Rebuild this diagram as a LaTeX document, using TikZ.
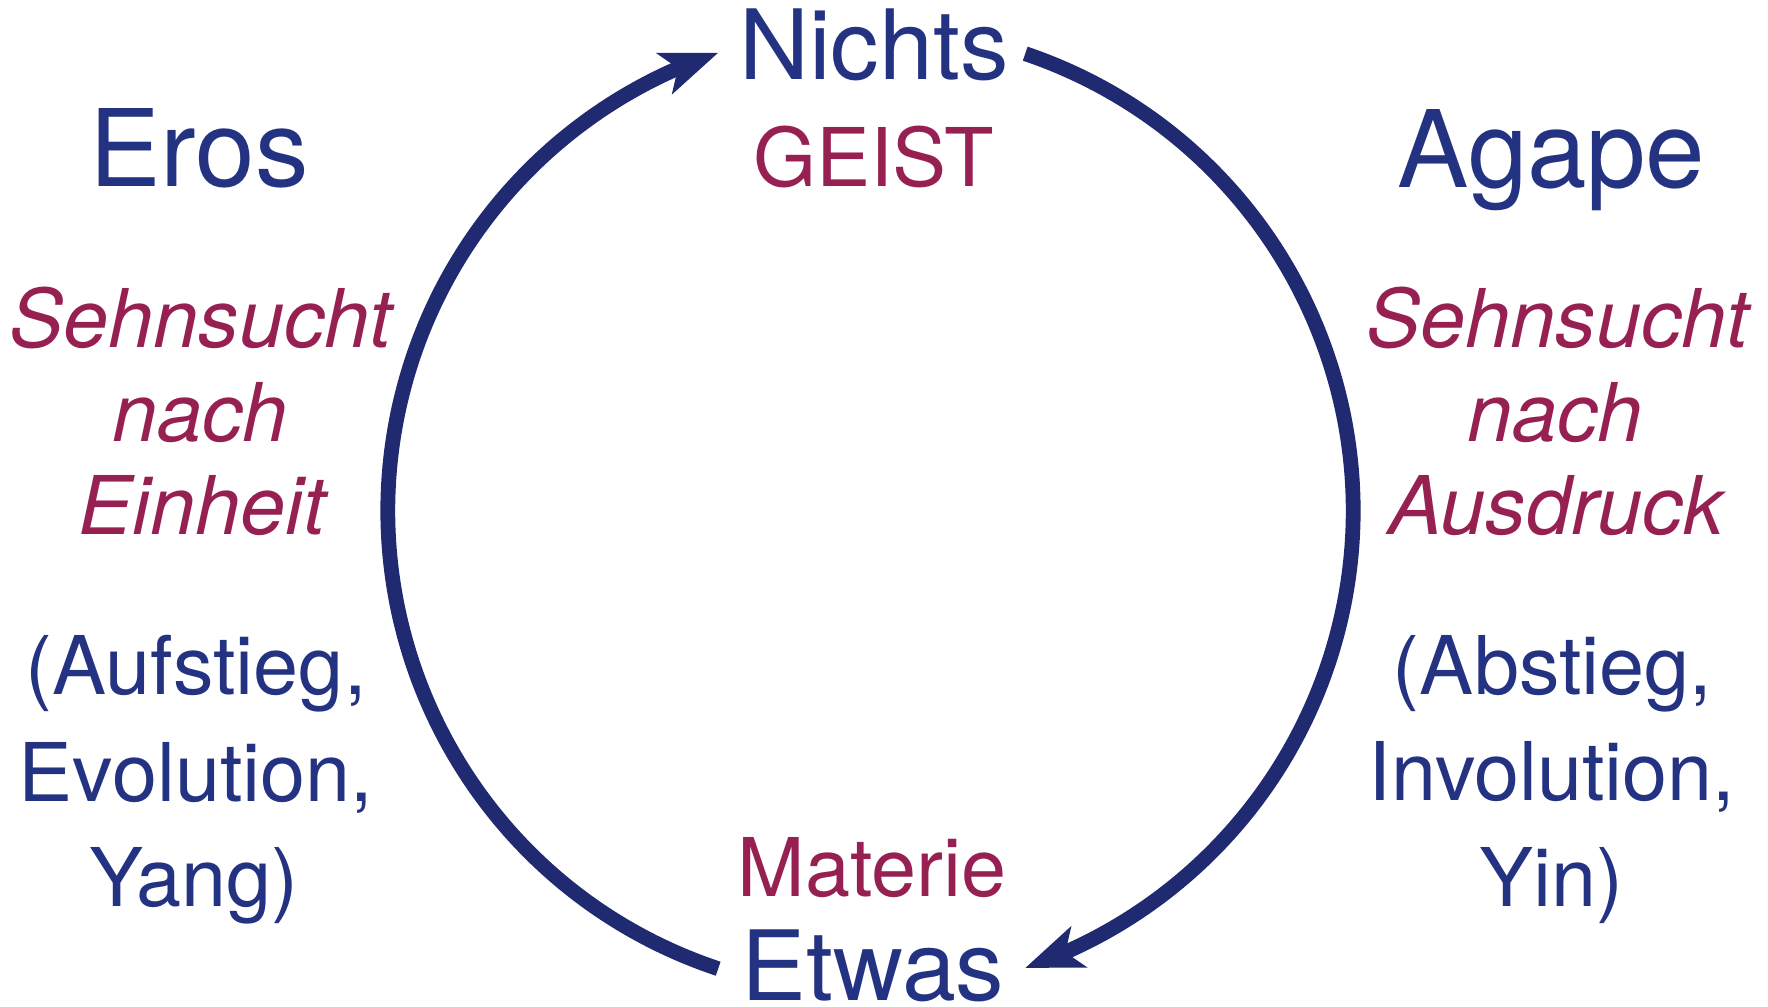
\documentclass[tikz,border=0pt]{standalone}
\usepackage{fontspec}
\setmainfont{TeX Gyre Heros}
\usetikzlibrary{arrows.meta,bending,calc}
\definecolor{txtblue}{RGB}{36,50,130}
\definecolor{arcblue}{RGB}{32,42,112}
\definecolor{crimson}{RGB}{150,32,82}
\tikzset{
  lbl/.style={inner sep=0pt, anchor=base},
  big/.style={lbl, text=txtblue, font=\fontsize{53.5}{60}\selectfont},
  pole/.style={lbl, text=txtblue, font=\fontsize{48.5}{56}\selectfont},
  sub/.style={lbl, text=crimson, font=\fontsize{40.5}{46}\selectfont},
  longing/.style={lbl, text=crimson, font=\fontsize{40.5}{46}\itshape},
  aspect/.style={lbl, text=txtblue, font=\fontsize{40.5}{46}\selectfont},
  cyclearc/.style={draw=arcblue, line width=7.4pt,
    -{Stealth[length=28.5pt, width=21.5pt, inset=7pt, fill=arcblue]}},
}
\begin{document}
\begin{tikzpicture}[x=0.5pt, y=0.5pt]
\useasboundingbox (0,0) rectangle (1768,1007);
% top and bottom
\node[pole] (nichts) at (874,927) {Nichts};
\node[sub] (geist) at (873.5,820) {GEIST};
\node[sub] (materie) at (872,110) {Materie};
\node[pole] (etwas) at (873,6.5) {Etwas};
% left column
\node[big] (eros) at (199,820) {Eros};
\node[longing] (le1) at (201,659) {Sehnsucht};
\node[longing] (le2) at (200,565) {nach};
\node[longing] (le3) at (202,472) {Einheit};
\node[aspect] (la1) at (196,312) {(Aufstieg,};
\node[aspect] (la2) at (196,205.3) {Evolution,};
\node[aspect] (la3) at (194,100.3) {Yang)};
% right column
\node[big] (agape) at (1551.5,819.3) {Agape};
\node[longing] (re1) at (1558,659) {Sehnsucht};
\node[longing] (re2) at (1555,565) {nach};
\node[longing] (re3) at (1556,472) {Ausdruck};
\node[aspect] (ra1) at (1552.5,312) {(Abstieg,};
\node[aspect] (ra2) at (1552,206.3) {Involution,};
\node[aspect] (ra3) at (1551,100.3) {Yin)};
% circle of arrows
\coordinate (O) at (870.5,496.2);
\coordinate (rstart) at ($(O)+(71.3:482.6)$);
\coordinate (lstart) at ($(O)+(251.6:482.6)$);
\draw[cyclearc] (rstart) arc[start angle=71.3, end angle=-71.3, radius=482.6];
\draw[cyclearc] (lstart) arc[start angle=251.6, end angle=108.4, radius=482.6];
\end{tikzpicture}
\end{document}
